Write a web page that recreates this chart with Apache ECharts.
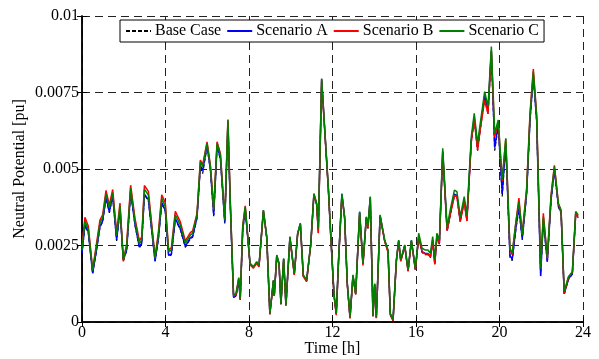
<!DOCTYPE html>
<html>
<head>
<meta charset="utf-8">
<script src="https://cdn.jsdelivr.net/npm/echarts@6/dist/echarts.min.js"></script>
<style>
    html, body { margin: 0; padding: 0; background: #fff; }
    #chart { width: 599px; height: 359px; }
</style>
</head>
<body>
<div id="chart"></div>
<script>
// time in hours
var hours = [0.00,0.14,0.30,0.51,0.67,0.86,0.99,1.15,1.31,1.47,1.66,1.82,1.98,2.14,2.33,2.54,2.75,2.86,2.99,3.18,
    3.50,3.66,3.82,3.99,4.15,4.28,4.47,4.71,4.95,5.19,5.30,5.51,5.67,5.78,5.99,6.15,6.31,6.47,6.63,6.84,
    6.99,7.10,7.26,7.38,7.51,7.58,7.70,7.82,8.05,8.21,8.37,8.48,8.69,8.85,9.00,9.17,9.21,9.33,9.44,9.53,
    9.66,9.77,9.96,10.17,10.33,10.46,10.60,10.76,10.96,11.11,11.24,11.32,11.48,11.64,11.80,11.92,12.07,12.18,12.29,12.45,
    12.58,12.71,12.84,12.98,13.11,13.30,13.46,13.62,13.70,13.81,13.94,14.02,14.10,14.28,14.50,14.66,14.77,14.90,15.06,15.17,
    15.27,15.46,15.62,15.78,15.97,16.13,16.29,16.45,16.57,16.69,16.80,16.90,17.00,17.12,17.28,17.49,17.64,17.84,17.96,18.12,
    18.31,18.44,18.65,18.79,18.95,19.08,19.29,19.45,19.61,19.77,19.94,20.13,20.30,20.50,20.61,20.78,20.93,21.09,21.30,21.46,
    21.62,21.78,21.97,22.10,22.29,22.47,22.63,22.82,22.95,23.10,23.30,23.49,23.65,23.77];

// neutral potential, in units of 0.001 pu
var baseCase = [2.22,3.15,2.92,1.58,2.22,3.10,3.27,4.05,3.57,4.09,2.65,3.65,2.00,2.33,4.24,3.15,2.42,2.55,4.15,3.97,
    1.98,2.71,3.87,3.62,2.15,2.19,3.35,3.02,2.44,2.72,2.77,3.39,5.05,4.85,5.72,4.96,3.46,5.72,5.32,3.22,
    6.48,3.86,0.80,0.84,1.36,0.72,2.98,3.66,1.88,1.77,1.93,1.82,3.62,2.75,0.25,1.33,0.84,2.15,1.88,0.57,
    2.04,0.52,2.75,1.55,2.86,3.19,1.50,1.33,2.53,4.16,3.84,2.92,7.90,6.12,4.35,2.76,0.90,0.24,1.99,4.16,
    3.40,1.22,0.13,1.50,0.90,3.55,1.87,3.40,3.05,4.00,0.19,1.22,0.13,3.46,2.64,2.30,0.24,0.04,1.99,2.64,
    1.99,2.48,1.66,2.64,1.71,2.76,2.27,2.20,2.20,2.10,2.64,1.88,2.75,2.54,5.54,2.96,3.50,4.12,4.10,3.28,
    3.92,3.30,5.88,6.62,5.60,6.30,7.30,6.80,8.80,5.60,6.40,4.10,5.80,2.12,2.00,3.00,3.70,2.68,4.16,6.56,
    8.00,6.55,1.52,3.32,1.96,3.96,4.96,3.76,3.55,0.90,1.38,1.56,3.50,3.42];

var scenarioA = [2.25,3.18,2.95,1.60,2.25,3.12,3.30,4.08,3.60,4.12,2.68,3.68,2.02,2.36,4.27,3.18,2.45,2.58,4.18,4.00,
    2.00,2.74,3.90,3.65,2.18,2.22,3.38,3.05,2.47,2.75,2.80,3.42,5.12,4.95,5.76,5.00,3.50,5.76,5.36,3.25,
    6.52,3.90,0.82,0.86,1.38,0.74,3.02,3.70,1.90,1.79,1.95,1.84,3.64,2.77,0.26,1.35,0.86,2.17,1.90,0.59,
    2.06,0.54,2.77,1.57,2.88,3.21,1.52,1.35,2.55,4.18,3.86,2.98,7.94,6.15,4.38,2.78,0.92,0.26,2.01,4.18,
    3.42,1.24,0.15,1.52,0.92,3.59,1.90,3.42,3.12,4.08,0.21,1.24,0.15,3.48,2.66,2.32,0.26,0.05,2.01,2.66,
    2.01,2.50,1.68,2.66,1.73,2.80,2.30,2.24,2.24,2.14,2.68,1.92,2.79,2.58,5.58,3.00,3.54,4.18,4.14,3.32,
    3.97,3.38,5.94,6.70,5.70,6.37,7.40,6.90,8.86,5.70,6.45,4.20,5.85,2.18,2.05,3.05,3.75,2.72,4.20,6.60,
    8.05,6.60,1.50,3.35,1.98,4.00,5.00,3.80,3.58,0.92,1.40,1.58,3.52,3.45];

var scenarioB = [2.45,3.42,3.14,1.72,2.45,3.33,3.50,4.30,3.82,4.33,2.91,3.89,1.98,2.56,4.47,3.38,2.65,2.78,4.46,4.27,
    2.12,2.94,4.16,3.90,2.35,2.42,3.62,3.27,2.65,2.92,2.98,3.55,5.29,5.13,5.89,5.13,3.70,5.89,5.51,3.36,
    6.62,4.03,0.85,0.90,1.45,0.74,3.15,3.80,1.87,1.76,1.92,1.80,3.63,2.76,0.25,1.34,0.85,2.16,1.89,0.58,
    2.05,0.53,2.76,1.54,2.87,3.20,1.49,1.32,2.54,4.17,3.85,2.90,7.90,6.12,4.35,2.77,0.88,0.22,2.00,4.15,
    3.41,1.20,0.12,1.50,0.90,3.56,1.85,3.40,3.10,4.05,0.18,1.22,0.12,3.46,2.64,2.28,0.24,0.04,1.99,2.64,
    1.98,2.48,1.66,2.64,1.70,2.78,2.30,2.22,2.22,2.12,2.66,1.88,2.78,2.57,5.55,2.98,3.50,4.12,4.10,3.28,
    3.92,3.30,5.90,6.62,5.62,6.30,7.25,6.80,8.85,6.05,6.50,4.60,5.98,2.36,2.20,3.23,4.05,2.88,4.38,6.80,
    8.27,6.78,1.78,3.55,2.08,4.15,5.12,3.86,3.62,0.93,1.45,1.62,3.55,3.40];

var scenarioC = [2.35,3.30,3.04,1.68,2.35,3.23,3.40,4.20,3.72,4.23,2.81,3.79,2.03,2.46,4.37,3.28,2.55,2.68,4.34,4.15,
    2.08,2.84,4.04,3.77,2.30,2.35,3.50,3.17,2.57,2.84,2.90,3.50,5.24,5.08,5.84,5.08,3.66,5.84,5.46,3.33,
    6.60,3.99,0.88,0.94,1.43,0.77,3.11,3.77,1.92,1.81,1.97,1.86,3.66,2.79,0.28,1.37,0.88,2.19,1.92,0.61,
    2.08,0.56,2.79,1.59,2.90,3.23,1.54,1.37,2.57,4.20,3.88,3.06,7.96,6.17,4.40,2.80,0.94,0.28,2.03,4.20,
    3.44,1.26,0.17,1.54,0.94,3.61,1.92,3.44,3.17,4.10,0.23,1.26,0.17,3.50,2.68,2.35,0.28,0.07,2.03,2.68,
    2.03,2.52,1.70,2.68,1.75,2.90,2.41,2.35,2.35,2.25,2.79,2.03,2.90,2.68,5.68,3.11,3.66,4.31,4.26,3.44,
    4.10,3.50,6.06,6.82,5.84,6.50,7.53,7.04,9.00,6.17,6.60,4.64,6.00,2.41,2.25,3.23,3.93,2.84,4.31,6.71,
    8.18,6.71,1.75,3.44,2.13,4.10,5.08,3.88,3.66,0.99,1.48,1.64,3.61,3.50];

var xTicks = [0, 4, 8, 12, 16, 20, 24];
var yTicks = [0, 0.0025, 0.005, 0.0075, 0.01];

function toPairs(vals) {
    var out = [];
    for (var i = 0; i < hours.length; i++) {
        out.push([hours[i], vals[i] / 1000]);
    }
    return out;
}

var fontName = 'Liberation Serif';
var chart = echarts.init(document.getElementById('chart'));

var gridLine = { show: true, lineStyle: { color: '#222', type: [8, 5], width: 1 } };

var option = {
    animation: false,
    backgroundColor: '#fff',
    textStyle: { fontFamily: fontName },
    grid: { left: 82, right: 16, top: 16, bottom: 37, outerBoundsMode: 'none' },
    legend: {
        left: 120, top: 20,
        padding: [3, 5],
        itemWidth: 25, itemHeight: 10, itemGap: 5,
        borderColor: '#000', borderWidth: 1, borderRadius: 0,
        backgroundColor: '#fff',
        itemStyle: { opacity: 0 },
        textStyle: { fontFamily: fontName, fontSize: 16, color: '#000', padding: [0, 0, 0, -1] },
        data: ['Base Case', 'Scenario A', 'Scenario B', 'Scenario C']
    },
    xAxis: [{
        type: 'value', min: xTicks[0], max: xTicks[xTicks.length - 1], interval: 4,
        name: 'Time [h]', nameLocation: 'middle', nameGap: 19, nameMoveOverlap: false,
        nameTextStyle: { fontFamily: fontName, fontSize: 16, color: '#000' },
        axisLine: { show: true, onZero: false, lineStyle: { color: '#000', width: 1.5 } },
        axisTick: { show: true, inside: true, length: 5, lineStyle: { color: '#000' } },
        axisLabel: { fontFamily: fontName, fontSize: 16, color: '#000', margin: 3 },
        splitLine: gridLine
    }, {
        type: 'value', position: 'top', min: 0, max: 24, interval: 4,
        axisLine: { show: true, lineStyle: { color: '#000', width: 1.5 } },
        axisTick: { show: true, inside: true, length: 5, lineStyle: { color: '#000' } },
        axisLabel: { show: false },
        splitLine: { show: false }
    }],
    yAxis: [{
        type: 'value', min: yTicks[0], max: yTicks[yTicks.length - 1], interval: 0.0025,
        name: 'Neutral Potential [pu]', nameLocation: 'middle', nameGap: 54, nameMoveOverlap: false,
        nameTextStyle: { fontFamily: fontName, fontSize: 16, color: '#000' },
        axisLine: { show: true, lineStyle: { color: '#000', width: 1.5 } },
        axisTick: { show: true, inside: true, length: 5, lineStyle: { color: '#000' } },
        axisLabel: { fontFamily: fontName, fontSize: 16, color: '#000', margin: 3 },
        splitLine: gridLine
    }, {
        type: 'value', position: 'right', min: 0, max: 0.01, interval: 0.0025,
        axisLine: { show: true, lineStyle: { color: '#000', width: 1.5 } },
        axisTick: { show: true, inside: true, length: 5, lineStyle: { color: '#000' } },
        axisLabel: { show: false },
        splitLine: { show: false }
    }],
    series: [{
        name: 'Base Case', type: 'line', symbol: 'none', z: 2,
        itemStyle: { color: '#000' },
        lineStyle: { color: '#000', width: 1.2, type: [4, 2] },
        data: toPairs(baseCase)
    }, {
        name: 'Scenario A', type: 'line', symbol: 'none', z: 3,
        itemStyle: { color: '#0000ff' },
        lineStyle: { color: '#0000ff', width: 1.5 },
        data: toPairs(scenarioA)
    }, {
        name: 'Scenario B', type: 'line', symbol: 'none', z: 4,
        itemStyle: { color: '#ff0000' },
        lineStyle: { color: '#ff0000', width: 1.5 },
        data: toPairs(scenarioB)
    }, {
        name: 'Scenario C', type: 'line', symbol: 'none', z: 5,
        itemStyle: { color: '#008000' },
        lineStyle: { color: '#008000', width: 1.5 },
        data: toPairs(scenarioC)
    }]
};

chart.setOption(option);
</script>
</body>
</html>
